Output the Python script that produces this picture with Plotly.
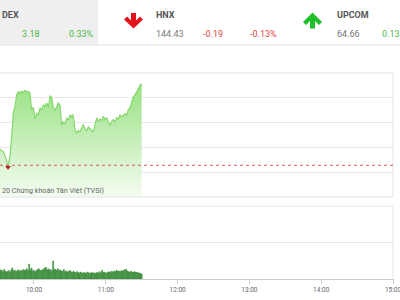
import plotly.graph_objects as go
import pandas as pd

DAY = "2020-06-01"
PREV_CLOSE = 963.28

line_times = [
    "09:30:00", "09:31:36", "09:33:00", "09:34:18", "09:35:30", "09:36:36", "09:37:30", "09:38:18",
    "09:39:06", "09:40:00", "09:41:24", "09:42:42", "09:44:06", "09:45:30", "09:46:54", "09:48:00",
    "09:49:42", "09:51:00", "09:52:30", "09:54:00", "09:55:12", "09:56:42", "09:57:24", "09:58:06",
    "09:59:24", "10:00:48", "10:02:18", "10:03:36", "10:05:00", "10:06:24", "10:07:48", "10:09:12",
    "10:10:36", "10:12:00", "10:13:24", "10:14:48", "10:16:06", "10:17:30", "10:19:00", "10:20:18",
    "10:21:42", "10:22:30", "10:23:06", "10:24:30", "10:25:54", "10:27:18", "10:28:42", "10:30:06",
    "10:31:12", "10:32:18", "10:33:00", "10:34:18", "10:35:42", "10:37:00", "10:38:24", "10:39:48",
    "10:41:12", "10:42:36", "10:44:00", "10:45:24", "10:46:48", "10:48:12", "10:49:36", "10:51:00",
    "10:52:24", "10:53:48", "10:55:12", "10:56:36", "10:57:54", "10:59:24", "11:00:48", "11:02:06",
    "11:03:30", "11:04:54", "11:06:18", "11:07:42", "11:09:06", "11:10:30", "11:11:54", "11:13:12",
    "11:14:36", "11:16:00", "11:17:30", "11:18:48", "11:20:12", "11:21:36", "11:23:00", "11:24:24",
    "11:25:48", "11:27:12", "11:28:36", "11:29:24", "11:30:00",
]
line_values = [
    963.98, 963.93, 963.88, 963.82, 963.70, 963.57, 963.40, 963.20,
    963.40, 963.69, 964.42, 965.39, 965.63, 966.12, 966.24, 966.18,
    966.26, 966.22, 966.30, 966.22, 966.26, 966.18, 965.80, 965.51,
    965.62, 965.15, 965.39, 965.30, 965.59, 965.50, 965.71, 965.66,
    965.79, 965.60, 966.08, 966.02, 965.63, 965.48, 965.65, 965.79,
    965.71, 965.20, 964.90, 965.02, 964.95, 965.19, 965.10, 965.31,
    965.22, 965.33, 965.20, 964.70, 964.58, 964.68, 964.62, 964.78,
    964.92, 964.75, 964.66, 964.82, 964.74, 964.70, 964.62, 964.90,
    965.19, 965.05, 965.14, 965.08, 965.25, 965.12, 965.20, 965.00,
    964.88, 965.05, 965.12, 965.02, 965.20, 965.14, 965.32, 965.22,
    965.28, 965.36, 965.30, 965.52, 965.59, 965.85, 966.04, 966.12,
    966.24, 966.32, 966.46, 966.56, 966.50,
]

vol_start = "09:30"
vol_values = [
    230, 210, 250, 240, 200, 260, 220, 190,
    210, 230, 180, 250, 300,
    220, 240, 200, 230, 250, 210, 240, 220,
    260, 230, 250, 280, 240, 410, 250,
    300, 220, 240, 200, 230, 260, 280, 240,
    230, 250, 270, 300, 320, 250, 280,
    240, 260, 220, 490, 270, 260, 240, 280,
    230, 250, 210, 220, 260, 200, 220, 190, 210, 230,
    200, 180, 210, 190, 170, 200, 180, 160, 190, 170,
    160, 180, 150, 170, 190, 160, 150, 180, 160, 170,
    150, 170, 180, 160, 200, 170, 240, 180, 190, 160,
    170, 190, 200, 180, 210, 190, 220, 200, 240, 210,
    220, 200, 230, 210, 240, 250, 270, 220, 200, 190,
    210, 190, 180, 200, 190, 180, 170, 160, 150, 140,
]

x_tick_labels = ["10:00", "11:00", "12:00", "13:00", "14:00", "15:00"]

FONT = "Roboto"
GREEN_TXT = "#4cb848"
RED_TXT = "#e0453e"
W, H = 400, 300

def px(x):
    return x / W

def py(y):
    return 1 - y / H

lt = pd.to_datetime([f"{DAY} {t}" for t in line_times])
vt = pd.date_range(f"{DAY} {vol_start}", periods=len(vol_values), freq="min")
tickvals = pd.to_datetime([f"{DAY} {t}" for t in x_tick_labels])

fig = go.Figure()

fig.add_trace(go.Scatter(
    x=lt, y=line_values, mode="lines",
    line=dict(color="#84d86c", width=1.2),
    fill="tozeroy",
    fillgradient=dict(type="vertical",
                      colorscale=[[0, "#f5fcf2"], [1, "#97e182"]],
                      start=962.0, stop=966.6),
    xaxis="x", yaxis="y", showlegend=False, hoverinfo="skip",
))

imin = min(range(len(line_values)), key=lambda i: line_values[i])
fig.add_trace(go.Scatter(
    x=[lt[imin]], y=[line_values[imin]], mode="markers",
    marker=dict(symbol="triangle-down", size=5, color="#b01c1c"),
    xaxis="x", yaxis="y", showlegend=False, hoverinfo="skip",
))

fig.add_trace(go.Bar(
    x=vt, y=vol_values,
    marker=dict(color="#52b452", line=dict(color="#2a752a", width=0.5)),
    xaxis="x2", yaxis="y2", showlegend=False, hoverinfo="skip",
))

x_range = [pd.Timestamp(f"{DAY} 09:31:36"), pd.Timestamp(f"{DAY} 15:00:30")]
xdom = [0, px(393.6)]

fig.update_layout(
    width=W, height=H,
    margin=dict(l=0, r=0, t=0, b=0, autoexpand=False),
    paper_bgcolor="white", plot_bgcolor="white",
    bargap=0.15,
    font=dict(family=FONT, color="#666"),
    xaxis=dict(domain=xdom, range=x_range, type="date", showgrid=False,
               showticklabels=False, zeroline=False, anchor="y", matches="x2",
               automargin=False),
    yaxis=dict(domain=[py(197), py(73)], range=[962, 967], dtick=1,
               showgrid=True, gridcolor="#e8e8e8", gridwidth=1,
               showticklabels=False, zeroline=False, automargin=False),
    xaxis2=dict(domain=xdom, range=x_range, type="date", showgrid=False,
                tickmode="array", tickvals=tickvals, ticktext=x_tick_labels,
                ticks="outside", ticklen=4, tickcolor="#cccccc",
                ticklabeloverflow="allow", automargin=False,
                tickfont=dict(size=6.5, color="#666", family=FONT),
                showline=True, linecolor="#cccccc", zeroline=False, anchor="y2"),
    yaxis2=dict(domain=[py(279), py(206)], range=[0, 2000], dtick=1000,
                showgrid=True, gridcolor="#e8e8e8", showticklabels=False,
                zeroline=False, automargin=False),
)

shapes = [
    # header background and separator
    dict(type="rect", xref="paper", yref="paper", x0=0, x1=px(98), y0=py(45), y1=1,
         fillcolor="#efefef", line=dict(width=0), layer="below"),
    dict(type="line", xref="paper", yref="paper", x0=0, x1=1, y0=py(45), y1=py(45),
         line=dict(color="#e4e4e4", width=1)),
    # panel borders
    dict(type="line", xref="paper", yref="paper", x0=0, x1=px(393), y0=py(73), y1=py(73),
         line=dict(color="#e6e6e6", width=1)),
    dict(type="line", xref="paper", yref="paper", x0=0, x1=px(393), y0=py(197), y1=py(197),
         line=dict(color="#e6e6e6", width=1)),
    dict(type="line", xref="paper", yref="paper", x0=px(393), x1=px(393), y0=py(197), y1=py(73),
         line=dict(color="#e6e6e6", width=1)),
    dict(type="line", xref="paper", yref="paper", x0=0, x1=px(393), y0=py(206), y1=py(206),
         line=dict(color="#e6e6e6", width=1)),
    dict(type="line", xref="paper", yref="paper", x0=px(393), x1=px(393), y0=py(279), y1=py(206),
         line=dict(color="#e6e6e6", width=1)),
    # previous close reference
    dict(type="line", xref="x domain", yref="y", x0=0, x1=1, y0=PREV_CLOSE, y1=PREV_CLOSE,
         line=dict(color="#e05555", width=1, dash="dot")),
]

def poly(points, color):
    path = "M " + " L ".join(f"{px(x):.5f},{py(y):.5f}" for x, y in points) + " Z"
    return dict(type="path", xref="paper", yref="paper", path=path,
                fillcolor=color, line=dict(width=0))

down_arrow = [(131, 13), (136, 13), (136, 20.5), (140, 16.5), (143, 19.5), (133.5, 28.5),
              (124, 19.5), (127, 16.5), (131, 20.5)]
up_arrow = [(310, 28.5), (315, 28.5), (315, 21), (319, 25), (322, 22), (312.5, 12.5),
            (303, 22), (306, 25), (310, 21)]
shapes.append(poly(down_arrow, "#e3141b"))
shapes.append(poly(up_arrow, "#1fbf2a"))
fig.update_layout(shapes=shapes)

def label(text, x, y, color, size=9, bold=False):
    fig.add_annotation(text=f"<b>{text}</b>" if bold else text,
                       xref="paper", yref="paper", x=px(x), y=py(y),
                       xanchor="left", yanchor="middle", showarrow=False,
                       font=dict(family=FONT, size=size, color=color))

label("DEX", -0.5, 14.5, "#555", bold=True)
label("3.18", 19.5, 33.5, GREEN_TXT)
label("0.33%", 66.5, 33.5, GREEN_TXT)
label("HNX", 153.5, 14.5, "#555", bold=True)
label("144.43", 153.5, 33.5, "#777")
label("-0.19", 200.5, 33.5, RED_TXT)
label("-0.13%", 247.5, 33.5, RED_TXT)
label("UPCOM", 334.5, 14.5, "#555", bold=True)
label("64.66", 334.5, 33.5, "#777")
label("0.13", 380, 33.5, GREEN_TXT)
label("20 Chứng khoán Tân Việt (TVSI)", -0.5, 190, "#666", size=7.2)

fig.write_html("out.html")
